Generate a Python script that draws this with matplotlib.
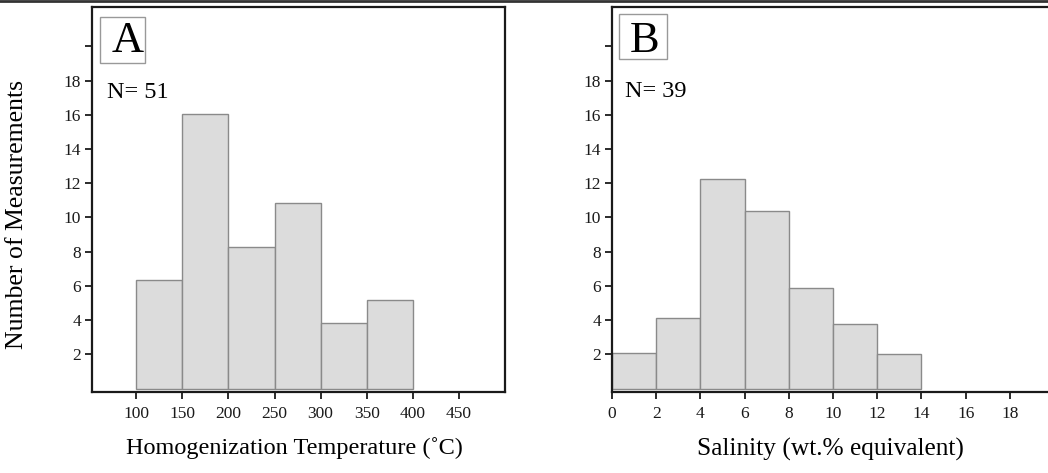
import matplotlib.pyplot as plt
from matplotlib.lines import Line2D
from matplotlib.patches import Rectangle

plt.rcParams['font.family'] = ['Liberation Serif', 'DejaVu Serif']

# Panel A: homogenization temperature histogram
temp_edges = [100, 150, 200, 250, 300, 350, 400]
temp_counts = [6.35, 16.05, 8.3, 10.85, 3.85, 5.2]
temp_ticks = [100, 150, 200, 250, 300, 350, 400, 450]

# Panel B: salinity histogram
sal_edges = [0, 2, 4, 6, 8, 10, 12, 14]
sal_counts = [2.1, 4.15, 12.25, 10.37, 5.85, 3.8, 2.03]
sal_ticks = [0, 2, 4, 6, 8, 10, 12, 14, 16, 18]

y_ticks = [2, 4, 6, 8, 10, 12, 14, 16, 18, 20]
y_labels = ["2", "4", "6", "8", "10", "12", "14", "16", "18", ""]

BAR_FACE = "#dcdcdc"
BAR_EDGE = "#8a8a8a"


def draw_hist(ax, edges, counts):
    lefts = edges[:-1]
    widths = [b - a for a, b in zip(edges[:-1], edges[1:])]
    ax.bar(lefts, counts, width=widths, align="edge", color=BAR_FACE,
           edgecolor=BAR_EDGE, linewidth=1.0, zorder=1)


def style_axes(ax):
    for sp in ax.spines.values():
        sp.set_linewidth(1.6)
        sp.set_color("#1a1a1a")
        sp.set_zorder(3)
    ax.set_yticks(y_ticks)
    ax.set_yticklabels(y_labels)
    ax.set_ylim(-0.2, 22.3)
    ax.tick_params(axis="both", direction="out", length=5, width=1.3,
                   labelsize=12.5, colors="#1a1a1a")
    ax.tick_params(axis="y", pad=3)
    ax.tick_params(axis="x", pad=5)


def panel_tag(ax, letter, box, letter_x, count_text, count_xy):
    # box = (x0, y0, w, h) in axes fraction
    ax.add_patch(Rectangle(box[:2], box[2], box[3], transform=ax.transAxes,
                           fc="white", ec="#999999", lw=1, zorder=4,
                           clip_on=False))
    ax.text(letter_x, 0.883, letter, transform=ax.transAxes, fontsize=32,
            ha="center", va="baseline", zorder=5)
    ax.text(count_xy[0], count_xy[1], count_text, transform=ax.transAxes,
            fontsize=17.5, ha="left", va="baseline", zorder=5)


fig = plt.figure(figsize=(10.48, 4.73), dpi=100)

# Panel A
ax1 = fig.add_axes([0.0878, 0.1712, 0.394, 0.814])
draw_hist(ax1, temp_edges, temp_counts)
style_axes(ax1)
ax1.set_xlim(52, 500)
ax1.set_xticks(temp_ticks)
ax1.set_ylabel("Number of Measurements", fontsize=18.5)
ax1.yaxis.set_label_coords(-0.155, 0.46)
ax1.set_xlabel("Homogenization Temperature (\u02daC)", fontsize=17.5)
ax1.xaxis.set_label_coords(0.49, -0.118)
panel_tag(ax1, "A", (0.019, 0.855, 0.109, 0.119), 0.087,
          "N= 51", (0.036, 0.764))

# Panel B
ax2 = fig.add_axes([0.584, 0.1712, 0.4218, 0.814])
draw_hist(ax2, sal_edges, sal_counts)
style_axes(ax2)
ax2.set_xlim(0, 20)
ax2.set_xticks(sal_ticks)
ax2.set_xlabel("Salinity (wt.% equivalent)", fontsize=18.3)
ax2.xaxis.set_label_coords(0.493, -0.118)
panel_tag(ax2, "B", (0.016, 0.865, 0.109, 0.117), 0.0735,
          "N= 39", (0.029, 0.766))

# thin border across the top of the figure
fig.add_artist(Line2D([0, 1], [0.997, 0.997], transform=fig.transFigure,
                      color="#333333", linewidth=2))

fig.savefig("out.png", dpi=100)
